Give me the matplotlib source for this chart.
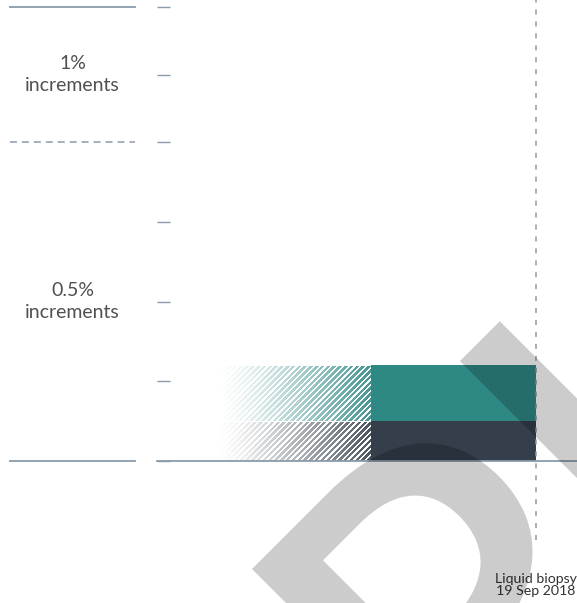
import numpy as np
import matplotlib
matplotlib.use('Agg')
import matplotlib.pyplot as plt
import matplotlib.dates as mdates
from matplotlib.textpath import TextPath
from matplotlib.patches import PathPatch
from matplotlib.font_manager import FontProperties
from matplotlib.transforms import Affine2D
from datetime import date

plt.rcParams['lines.scale_dashes'] = False

# ---------------- data ----------------
series_names = ['Variant A', 'Variant B']
series_values = [0.25, 0.35]            # % (stacked: bottom, top)
series_colors = ['#343f4b', '#2e8985']
solid_start = date(2018, 3, 19)
fade_start = date(2017, 9, 29)
event_date = date(2018, 9, 19)
event_label = 'Liquid biopsy\n19 Sep 2018'
x_limits = [date(2017, 7, 23), date(2018, 11, 4)]
y_ticks = [0, 0.5, 1, 1.5, 2, 3, 4]
y_max = 4.104
band_lines = [4, 2, 0]
band_styles = ['-', '--', '-']
band_labels = ['1%\nincrements', '0.5%\nincrements']
band_label_y = [3, 1]
watermark = 'PLACEHOLDER'

GRAY = '#8a9bab'
TEXT = '#505050'
W, H = 577, 603
DPI = 100
K = 67.5 / 159.5


def fwd(v):
    v = np.asarray(v, dtype=float)
    return np.where(v <= 2, v, 2 + (v - 2) * K)


def inv(u):
    u = np.asarray(u, dtype=float)
    return np.where(u <= 2, u, 2 + (u - 2) / K)


fig = plt.figure(figsize=(W / DPI, H / DPI), dpi=DPI)
bottom = (H - 461) / H
height = 461 / H
ax = fig.add_axes([157 / W, bottom, 420 / W, height])
ax.set_yscale('function', functions=(fwd, inv))
ax.set_ylim(0, y_max)
xl = [mdates.date2num(d) for d in x_limits]
ax.set_xlim(*xl)

for s in ['top', 'right', 'left']:
    ax.spines[s].set_visible(False)
ax.spines['bottom'].set_color(GRAY)
ax.spines['bottom'].set_linewidth(1.3)
ax.set_xticks([])
ax.set_yticks(y_ticks)
ax.set_yticklabels([])
ax.tick_params(axis='y', direction='in', length=9.5, width=1.0, color=GRAY)

# solid stacked bars
x0 = mdates.date2num(solid_start)
x1 = mdates.date2num(event_date)
xf = mdates.date2num(fade_start)
cum = 0
segments = []
for name, val, col in zip(series_names, series_values, series_colors):
    ax.bar(x0, val, width=x1 - x0, bottom=cum, align='edge', color=col,
           linewidth=0, zorder=1)
    segments.append((cum, cum + val, col))
    cum += val

# faded, hatched lead-in
fig.canvas.draw()
for b, t, col in segments:
    (px0, pyb), (px1, pyt) = ax.transData.transform([(xf, b), (x0, t)])
    nw = int(round(px1 - px0))
    nh = int(round(pyt - pyb))
    X = px0 + np.arange(nw) + 0.5
    Y = pyt - (np.arange(nh) + 0.5)
    XX, YY = np.meshgrid(X, Y)
    stripe = np.mod(XX - YY, 5.8) < 2.3
    tt = (XX - px0) / (px1 - px0)
    alpha = 0.9 * np.clip(tt, 0, 1) ** 1.25
    rgb = np.array(matplotlib.colors.to_rgb(col))
    img = np.zeros((nh, nw, 4))
    img[..., :3] = rgb
    img[..., 3] = np.where(stripe, 0.0, alpha)
    ax.imshow(img, extent=(xf, x0, b, t), aspect='auto', origin='upper',
              interpolation='nearest', zorder=1)
ax.set_xlim(*xl)
ax.set_ylim(0, y_max)

# event line
ax.axvline(x1, ymin=-0.171, ymax=1, clip_on=False, color=GRAY, lw=1.1,
           dashes=(3.6, 5.0), zorder=3)
ax.text(x1, -0.268, event_label, transform=ax.get_xaxis_transform(),
        ha='center', va='center', fontsize=10.2, color='#333333',
        family='Lato', linespacing=1.0)

# left legend panel
ax2 = fig.add_axes([10 / W, bottom, 125 / W, height], sharey=ax)
ax2.set_xlim(0, 1)
ax2.axis('off')
for v, ls in zip(band_lines, band_styles):
    if ls == '--':
        ax2.axhline(v, color=GRAY, lw=1.1, dashes=(5.0, 3.6), clip_on=False)
    else:
        ax2.axhline(v, color=GRAY, lw=1.3, clip_on=False)
for lab, yv in zip(band_labels, band_label_y):
    ax2.text(0.5, yv, lab, ha='center', va='center', fontsize=14,
             color=TEXT, family='Lato', linespacing=1.32)

# watermark (large rotated text, drawn as a path)
fp = FontProperties(family='Lato', weight=600)
eP = TextPath((0, 0), watermark[0], size=1, prop=fp).get_extents()
eL = TextPath((0, 0), watermark[1], size=1, prop=fp).get_extents()
ePL = TextPath((0, 0), watermark[:2], size=1, prop=fp).get_extents()
wP = eP.x1 - eP.x0
dL = (ePL.x1 - (eL.x1 - eL.x0)) - eP.x0
S = (250 * wP + 286 * dL) / (wP ** 2 + dL ** 2)
wm_path = TextPath((0, 0), watermark, size=S, prop=fp)
tr = (Affine2D().translate(-eP.x0 * S, -eP.y1 * S).rotate_deg(45)
      .translate(252, H - 569))
fig.add_artist(PathPatch(wm_path, transform=tr, facecolor=(0, 0, 0, 0.2),
                         edgecolor='none', zorder=10))

fig.savefig('out.png', dpi=DPI)
